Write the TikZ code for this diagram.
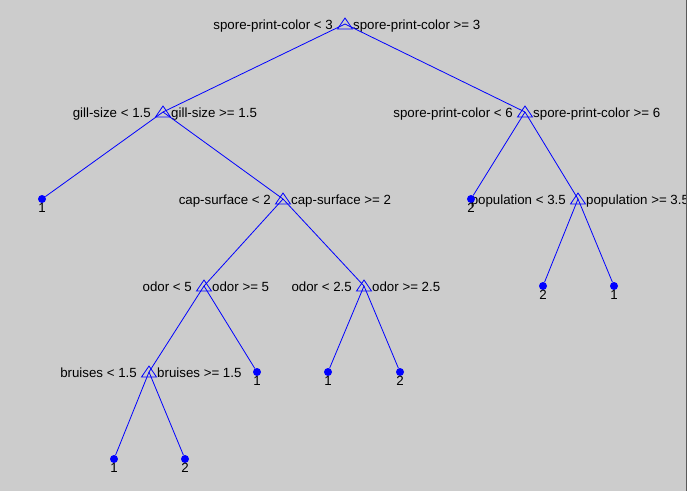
\documentclass[tikz,border=0pt]{standalone}
\usepackage{fontspec}
\setmainfont{Liberation Sans}
\usetikzlibrary{calc}

\definecolor{figgray}{RGB}{204,204,204}

\begin{document}
\begin{tikzpicture}[x=1pt,y=-1pt,
  edge/.style={blue, line width=0.8pt},
  leaf/.style={circle, fill=blue, inner sep=0pt, minimum size=8pt},
  cls/.style={inner sep=0pt, anchor=base, font=\fontsize{13.3}{16}\selectfont},
  rulel/.style={inner sep=0pt, anchor=base east, font=\fontsize{13.3}{16}\selectfont},
  ruler/.style={inner sep=0pt, anchor=base west, font=\fontsize{13.3}{16}\selectfont}]

\fill[figgray] (0,0) rectangle (688,491);
\useasboundingbox (0,0) rectangle (688,491);

\coordinate (root) at (345,24);
\node[rulel] (rootL) at (333,29) {spore-print-color < 3};
\node[ruler] (rootR) at (353,29) {spore-print-color >= 3};

\coordinate (gill) at (163,112);
\node[rulel] (gillL) at (151,117) {gill-size < 1.5};
\node[ruler] (gillR) at (171,117) {gill-size >= 1.5};

\coordinate (spore) at (525,112);
\node[rulel] (sporeL) at (513,117) {spore-print-color < 6};
\node[ruler] (sporeR) at (533,117) {spore-print-color >= 6};

\coordinate (cap) at (283,199);
\node[rulel] (capL) at (271,204) {cap-surface < 2};
\node[ruler] (capR) at (291,204) {cap-surface >= 2};

\coordinate (pop) at (578,199);
\node[rulel] (popL) at (566,204) {population < 3.5};
\node[ruler] (popR) at (586,204) {population >= 3.5};

\coordinate (odorA) at (204,286);
\node[rulel] (odorAL) at (192,291) {odor < 5};
\node[ruler] (odorAR) at (212,291) {odor >= 5};

\coordinate (odorB) at (364,286);
\node[rulel] (odorBL) at (352,291) {odor < 2.5};
\node[ruler] (odorBR) at (372,291) {odor >= 2.5};

\coordinate (bruise) at (149,372);
\node[rulel] (bruiseL) at (137,377) {bruises < 1.5};
\node[ruler] (bruiseR) at (157,377) {bruises >= 1.5};

\node[leaf] (leaf1) at (42,199) {};
\node[leaf] (leaf2) at (471,199) {};
\node[leaf] (leaf3) at (543,286) {};
\node[leaf] (leaf4) at (614,286) {};
\node[leaf] (leaf5) at (257,372) {};
\node[leaf] (leaf6) at (328,372) {};
\node[leaf] (leaf7) at (400,372) {};
\node[leaf] (leaf8) at (114,459) {};
\node[leaf] (leaf9) at (185,459) {};

\node[cls] (cls1) at (42,212) {1};
\node[cls] (cls2) at (471,212) {2};
\node[cls] (cls3) at (543,299) {2};
\node[cls] (cls4) at (614,299) {1};
\node[cls] (cls5) at (257,385) {1};
\node[cls] (cls6) at (328,385) {1};
\node[cls] (cls7) at (400,385) {2};
\node[cls] (cls8) at (114,472) {1};
\node[cls] (cls9) at (185,472) {2};


\draw[edge] (root) -- (gill);
\draw[edge] (root) -- (spore);
\draw[edge] (gill) -- (leaf1);
\draw[edge] (gill) -- (cap);
\draw[edge] (spore) -- (leaf2);
\draw[edge] (spore) -- (pop);
\draw[edge] (cap) -- (odorA);
\draw[edge] (cap) -- (odorB);
\draw[edge] (pop) -- (leaf3);
\draw[edge] (pop) -- (leaf4);
\draw[edge] (odorA) -- (bruise);
\draw[edge] (odorA) -- (leaf5);
\draw[edge] (odorB) -- (leaf6);
\draw[edge] (odorB) -- (leaf7);
\draw[edge] (bruise) -- (leaf8);
\draw[edge] (bruise) -- (leaf9);

\foreach \s in {root,gill,spore,cap,pop,odorA,odorB,bruise}
  \draw[edge] ($(\s)+(0,-6)$) -- ++(7.5,11) -- ++(-15,0) -- cycle;

\draw[gray!70!black] (686.5,0) -- (686.5,491);
\draw[white] (687.5,0) -- (687.5,491);

\end{tikzpicture}
\end{document}
